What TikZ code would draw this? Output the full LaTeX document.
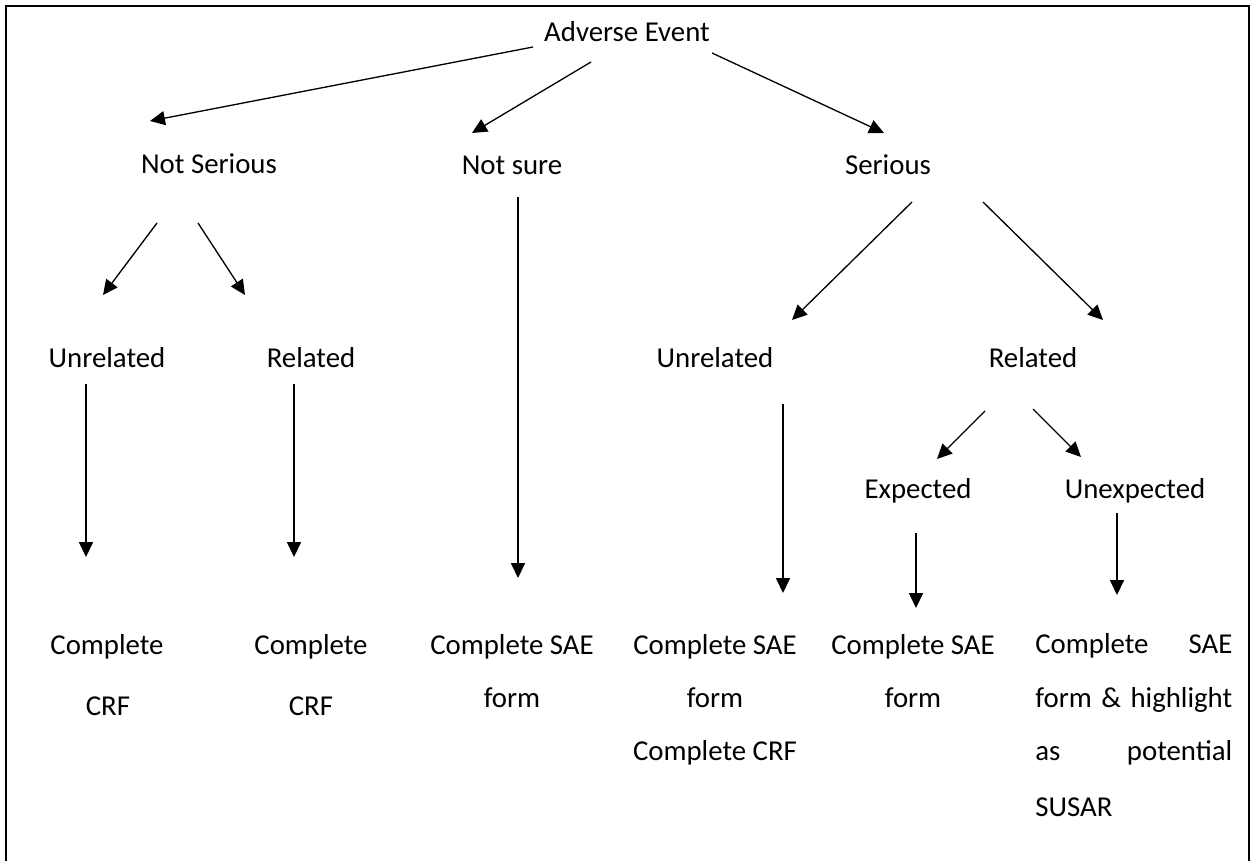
\documentclass[tikz,border=0pt]{standalone}
\usepackage{fontspec}
\setmainfont{Carlito}
\usetikzlibrary{arrows.meta,calc}

\begin{document}
\begin{tikzpicture}[x=0.02cm,y=-0.02cm,
  txt/.style={font=\fontsize{16.4}{20}\selectfont,inner sep=0pt,anchor=base},
  arr/.style={line width=0.75pt,-{Triangle[length=8.5pt,width=8pt]}}]
\useasboundingbox (0,0) rectangle (1250,861);
\draw [line width=1.15pt] (6,861) -- (6,6) -- (1248.5,6) -- (1248.5,861);

% levels
\node [txt] (ae) at (627,42) {Adverse Event};
\node [txt] (ns) at (209,174) {Not Serious};
\node [txt] (nsure) at (512,175) {Not sure};
\node [txt] (ser) at (888,175) {Serious};
\node [txt] (ur1) at (107,367) {Unrelated};
\node [txt] (r1) at (311,367) {Related};
\node [txt] (ur2) at (715,367) {Unrelated};
\node [txt] (r2) at (1033,367) {Related};
\node [txt] (exp) at (918,498) {Expected};
\node [txt] (unexp) at (1135,498) {Unexpected};

% actions
\node [txt] (c1) at (107,654) {Complete};
\node [txt] (c1b) at (108,715) {CRF};
\node [txt] (c2) at (311,654) {Complete};
\node [txt] (c2b) at (311,715) {CRF};
\node [txt] (c3) at (512,654) {Complete SAE};
\node [txt] (c3b) at (512,707) {form};
\node [txt] (c4) at (715,654) {Complete SAE};
\node [txt] (c4b) at (715,707) {form};
\node [txt] (c4c) at (715,760) {Complete CRF};
\node [txt] (c5) at (913,654) {Complete SAE};
\node [txt] (c5b) at (913,707) {form};
\node [txt,anchor=base west] (c6) at (1035,653) {\makebox[3.94cm][s]{Complete SAE}};
\node [txt,anchor=base west] (c6b) at (1035,707) {\makebox[3.94cm][s]{form \& highlight}};
\node [txt,anchor=base west] (c6c) at (1035,760) {\makebox[3.94cm][s]{as potential}};
\node [txt,anchor=base west] (c6d) at (1035,816) {SUSAR};

% arrows
\draw [arr] ($(ae.base)+(-94,5)$) -- ($(ns.base)+(-59,-53)$);
\draw [arr] ($(ae.base)+(-36,20)$) -- ($(nsure.base)+(-40,-42)$);
\draw [arr] ($(ae.base)+(85,11)$) -- ($(ser.base)+(-4,-42)$);
\draw [arr] ($(nsure.base)+(6,22)$) -- ($(c3.base)+(6,-76)$);
\draw [arr] ($(ns.base)+(-52,49)$) -- ($(ur1.base)+(-4,-72)$);
\draw [arr] ($(ns.base)+(-11,49)$) -- ($(r1.base)+(-66,-72)$);
\draw [arr] ($(ur1.base)+(-21,17)$) -- ($(c1.base)+(-21,-97)$);
\draw [arr] ($(r1.base)+(-17,17)$) -- ($(c2.base)+(-17,-97)$);
\draw [arr] ($(ser.base)+(24,27)$) -- ($(ur2.base)+(77,-47)$);
\draw [arr] ($(ser.base)+(95,27)$) -- ($(r2.base)+(70,-47)$);
\draw [arr] ($(ur2.base)+(68,37)$) -- ($(c4.base)+(68,-61)$);
\draw [arr] ($(r2.base)+(-48,44)$) -- ($(exp.base)+(19,-39)$);
\draw [arr] ($(r2.base)+(0,42)$) -- ($(unexp.base)+(-54,-41)$);
\draw [arr] ($(exp.base)+(-2,35)$) -- ($(c5.base)+(3,-46)$);
\draw [arr] ($(unexp.base)+(-18,15)$) -- ($(c6.base west)+(82,-58)$);
\end{tikzpicture}
\end{document}
